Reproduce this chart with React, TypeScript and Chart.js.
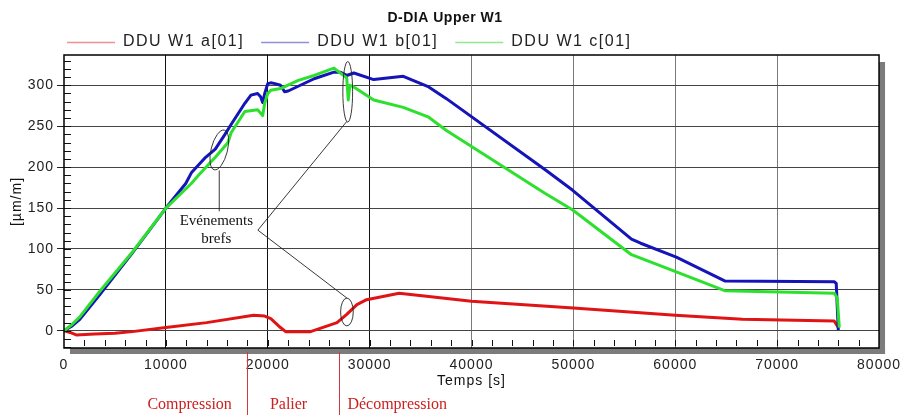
import React, { useEffect, useRef } from 'react';
import { Chart, registerables } from 'chart.js';

Chart.register(...registerables);

// ---------- data ----------
const CHART_TITLE = 'D-DIA Upper W1';
const SERIES_NAMES = ['DDU W1 a[01]', 'DDU W1 b[01]', 'DDU W1 c[01]'];
const SERIES_COLORS = ['#e01414', '#1414b8', '#2ee02e'];
const LEGEND_COLORS = ['#f09090', '#9090d8', '#90e890'];
const X_TITLE = 'Temps [s]';
const Y_TITLE = '[µm/m]';
const X_MIN = 0;
const X_MAX = 80000;
const X_STEP = 10000;
const X_MINOR = 2000;
const Y_MIN = -21;
const Y_MAX = 337;
const Y_STEP = 50;
const Y_MINOR = 10;

// series a (red)
const timeA = [0, 600, 1200, 3000, 5000, 6700, 10000, 14000, 18600, 19700, 20300, 21250, 21750, 24200, 26800, 27750, 28750, 29700, 32900, 35800, 40000, 50000, 60000, 66600, 75600, 76000];
const valA = [0, -2, -5, -4, -3, -1, 4, 10, 19, 18, 15, 4, -1, -1, 10, 20, 32, 38, 46, 42, 36, 28, 19, 14, 12, 4];

// series b (blue)
const timeB = [0, 800, 1550, 3500, 6700, 10000, 11950, 12500, 13900, 14850, 15800, 16400, 17750, 18350, 19000, 19300, 19500, 19700, 20000, 20300, 20700, 21250, 21650, 22000, 24550, 26500, 27100, 27750, 28450, 30400, 33300, 35800, 37500, 47200, 49900, 55700, 56600, 60100, 64850, 75600, 75800, 76000];
const valB = [0, 6, 14, 44, 95, 150, 180, 193, 212, 222, 240, 252, 278, 288, 290, 286, 279, 290, 302, 303, 302, 300, 292, 293, 308, 316, 316, 312, 315, 307, 311, 298, 284, 197, 172, 112, 107, 90, 61, 60, 58, 1];

// series c (green)
const timeC = [0, 800, 1550, 3500, 6700, 10000, 12500, 13200, 14850, 16100, 16400, 17750, 19000, 19500, 19700, 20000, 20300, 21250, 23000, 24550, 26500, 26800, 27750, 27900, 28050, 28450, 30400, 33300, 35800, 37500, 47200, 49900, 55700, 60100, 64850, 75600, 75900, 76100];
const valC = [0, 8, 17, 48, 96, 150, 180, 190, 212, 230, 242, 268, 270, 263, 278, 290, 294, 296, 306, 312, 321, 318, 309, 282, 300, 298, 282, 273, 261, 245, 168, 148, 93, 72, 49, 46, 40, 4];

// annotations (data coordinates)
const EVENT_TEXT = ['Evénements', 'brefs'];
const EVENT_TEXT_POS = [[14950, 134], [14950, 112]];
const EVENT_ELLIPSES = [
  // cx, cy, rx, ry (data units), rotation (rad)
  [15240, 221, 800, 25, 0.25],
  [27850, 292, 480, 37, 0],
  [27770, 23, 620, 17, 0],
];
const EVENT_LINES = [
  [[15240, 196], [15240, 146]],
  [[19030, 123], [27770, 256]],
  [[19030, 123], [27770, 40]],
];
const PHASE_NAMES = ['Compression', 'Palier', 'Décompression'];
const PHASE_LABEL_T = [12330, 22040, 32700];
const PHASE_BOUNDS = [18000, 27000];

const toPts = (t: number[], v: number[]) => t.map((x, i) => ({ x, y: v[i] }));

const decor = {
  id: 'decor',
  beforeUpdate(chart: any) {
    chart.ctx.letterSpacing = '1px';
  },
  beforeRender(chart: any) {
    chart.ctx.letterSpacing = '1px';
  },
  beforeDraw(chart: any) {
    const { ctx, chartArea: a } = chart;
    ctx.save();
    ctx.fillStyle = '#ffffff';
    ctx.fillRect(0, 0, chart.width, chart.height);
    ctx.fillStyle = '#7c7c7c';
    ctx.fillRect(a.right, a.top + 7, 6, a.bottom - a.top - 1);
    ctx.fillRect(a.left + 6, a.bottom, a.right - a.left, 6);
    ctx.restore();
  },
  afterDatasetsDraw(chart: any) {
    const { ctx, chartArea: a, scales } = chart;
    const xs = scales.x;
    const ys = scales.y;
    ctx.save();
    // minor ticks inside
    ctx.strokeStyle = '#111';
    ctx.lineWidth = 1;
    ctx.beginPath();
    for (let t = X_MIN + X_MINOR; t < X_MAX; t += X_MINOR) {
      const px = Math.round(xs.getPixelForValue(t)) + 0.5;
      ctx.moveTo(px, a.bottom - 8);
      ctx.lineTo(px, a.bottom - 2);
    }
    for (let v = Math.ceil(Y_MIN / Y_MINOR) * Y_MINOR; v < Y_MAX; v += Y_MINOR) {
      const py = Math.round(ys.getPixelForValue(v)) + 0.5;
      ctx.moveTo(a.left, py);
      ctx.lineTo(a.left + 7, py);
    }
    ctx.stroke();
    // frame
    ctx.strokeStyle = '#000';
    ctx.lineWidth = 1.5;
    ctx.strokeRect(a.left, a.top, a.right - a.left, a.bottom - a.top);

    // event annotations
    ctx.strokeStyle = '#222';
    ctx.lineWidth = 0.9;
    EVENT_ELLIPSES.forEach(([cx, cy, rx, ry, rot]) => {
      const px = xs.getPixelForValue(cx);
      const py = ys.getPixelForValue(cy);
      const prx = Math.abs(xs.getPixelForValue(cx + rx) - px);
      const pry = Math.abs(ys.getPixelForValue(cy + ry) - py);
      ctx.beginPath();
      ctx.ellipse(px, py, prx, pry, rot, 0, Math.PI * 2);
      ctx.stroke();
    });
    EVENT_LINES.forEach(([p0, p1]) => {
      ctx.beginPath();
      ctx.moveTo(xs.getPixelForValue(p0[0]), ys.getPixelForValue(p0[1]));
      ctx.lineTo(xs.getPixelForValue(p1[0]), ys.getPixelForValue(p1[1]));
      ctx.stroke();
    });
    ctx.letterSpacing = '0px';
    ctx.fillStyle = '#111';
    ctx.font = '15px "Liberation Serif", "Times New Roman", serif';
    ctx.textAlign = 'center';
    ctx.textBaseline = 'middle';
    EVENT_TEXT.forEach((s, i) => {
      const [tx, ty] = EVENT_TEXT_POS[i];
      const px = xs.getPixelForValue(tx);
      const py = ys.getPixelForValue(ty);
      ctx.fillStyle = '#fff';
      const w = ctx.measureText(s).width;
      ctx.fillRect(px - w / 2 - 1, py - 8, w + 2, 16);
      ctx.fillStyle = '#111';
      ctx.fillText(s, px, py);
    });
    ctx.restore();
  },
  afterDraw(chart: any) {
    const { ctx, chartArea: a, scales } = chart;
    const xs = scales.x;
    ctx.save();
    // phase boundaries and labels below the axis
    ctx.strokeStyle = '#d03a3a';
    ctx.lineWidth = 1;
    ctx.beginPath();
    PHASE_BOUNDS.forEach((t) => {
      const px = Math.round(xs.getPixelForValue(t)) + 0.5;
      ctx.moveTo(px, a.bottom + 4);
      ctx.lineTo(px, chart.height);
    });
    ctx.stroke();
    ctx.letterSpacing = '0px';
    ctx.fillStyle = '#cc1f1f';
    ctx.font = '16px "Liberation Serif", "Times New Roman", serif';
    ctx.textAlign = 'center';
    ctx.textBaseline = 'middle';
    PHASE_NAMES.forEach((s, i) => {
      ctx.fillText(s, xs.getPixelForValue(PHASE_LABEL_T[i]), a.bottom + 57);
    });

    // title
    ctx.letterSpacing = '0.5px';
    ctx.fillStyle = '#111';
    ctx.font = 'bold 14px "Liberation Sans", Arial, sans-serif';
    ctx.fillText(CHART_TITLE, chart.width / 2 - 10, 18);

    // legend
    ctx.letterSpacing = '1.5px';
    ctx.font = '16px "Liberation Sans", Arial, sans-serif';
    ctx.textAlign = 'left';
    let x = a.left + 3;
    const y = 42;
    SERIES_NAMES.forEach((name, i) => {
      ctx.strokeStyle = LEGEND_COLORS[i];
      ctx.lineWidth = 1.5;
      ctx.beginPath();
      ctx.moveTo(x, y + 0.5);
      ctx.lineTo(x + 48, y + 0.5);
      ctx.stroke();
      ctx.fillStyle = '#222';
      ctx.fillText(name, x + 56, y);
      x += 56 + ctx.measureText(name).width + 17;
    });
    ctx.restore();
  },
};

export default function App() {
  const ref = useRef<HTMLCanvasElement>(null);
  useEffect(() => {
    const font = { family: '"Liberation Sans", Arial, sans-serif', size: 14 };
    const chart = new Chart(ref.current as HTMLCanvasElement, {
      type: 'line',
      data: {
        datasets: [
          { label: SERIES_NAMES[0], data: toPts(timeA, valA), borderColor: SERIES_COLORS[0], order: 2 },
          { label: SERIES_NAMES[1], data: toPts(timeB, valB), borderColor: SERIES_COLORS[1], order: 1 },
          { label: SERIES_NAMES[2], data: toPts(timeC, valC), borderColor: SERIES_COLORS[2], order: 0 },
        ].map((d) => ({ ...d, borderWidth: 3, pointRadius: 0, tension: 0, fill: false, borderJoinStyle: 'round' as const })),
      },
      options: {
        animation: false,
        responsive: true,
        maintainAspectRatio: false,
        layout: { padding: { top: 55, right: 22, left: 0, bottom: 0 } },
        plugins: { legend: { display: false }, title: { display: false }, tooltip: { enabled: false } },
        scales: {
          x: {
            type: 'linear',
            min: X_MIN,
            max: X_MAX,
            afterFit: (s: any) => { s.height = 67; },
            border: { display: false },
            grid: {
              drawTicks: false,
              color: (c: any) => {
                const v = c.tick?.value;
                if (v === X_MIN || v === X_MAX) return 'rgba(0,0,0,0)';
                return v <= 30000 ? '#111' : '#7a7a7a';
              },
              lineWidth: 1,
            },
            ticks: {
              stepSize: X_STEP,
              autoSkip: false,
              maxRotation: 0,
              padding: 9,
              color: '#222',
              font,
              callback: (v: any) => String(v),
            },
            title: { display: true, text: X_TITLE, color: '#111', font, padding: { top: 0, bottom: 25 } },
          },
          y: {
            type: 'linear',
            min: Y_MIN,
            max: Y_MAX,
            afterFit: (s: any) => { s.width = 64; },
            border: { display: false },
            grid: {
              drawTicks: true,
              tickLength: 7,
              color: (c: any) => {
                const v = c.tick?.value;
                return v % Y_STEP === 0 && v >= 0 && v <= 300 ? '#444' : 'rgba(0,0,0,0)';
              },
              tickColor: (c: any) => {
                const v = c.tick?.value;
                return v % Y_STEP === 0 && v >= 0 && v <= 300 ? '#222' : 'rgba(0,0,0,0)';
              },
              lineWidth: 1,
            },
            ticks: {
              stepSize: Y_MINOR,
              autoSkip: false,
              padding: 3,
              color: '#222',
              font,
              callback: (v: any) => (v % Y_STEP === 0 && v >= 0 && v <= 300 ? String(v) : ''),
            },
            title: { display: true, text: Y_TITLE, color: '#111', font, padding: { top: 9, bottom: 0 } },
          },
        },
      },
      plugins: [decor],
    } as any);
    return () => chart.destroy();
  }, []);
  return (
    <div style={{ position: 'fixed', left: 0, top: 0, width: 910, height: 415, background: '#fff' }}>
      <canvas ref={ref} />
    </div>
  );
}
